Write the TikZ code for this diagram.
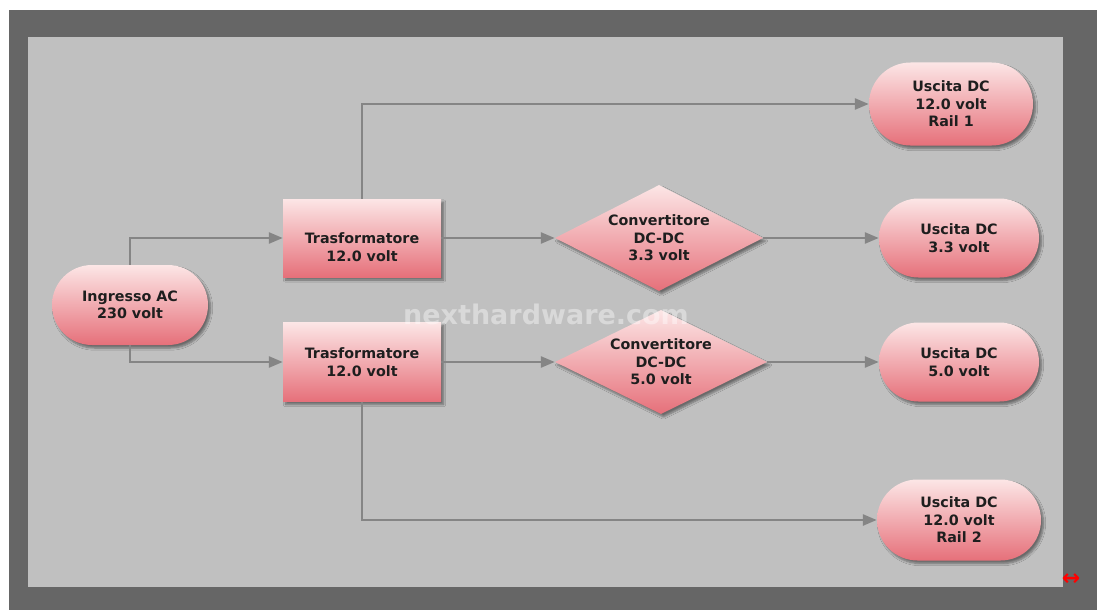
\documentclass[tikz,border=0pt]{standalone}
\usepackage{fontspec}
\setmainfont{DejaVu Sans}
\newfontfamily\symfont{DejaVu Sans}
\usetikzlibrary{shapes.geometric,shapes.misc,arrows.meta,shadows.blur}
\definecolor{framegray}{HTML}{666666}
\definecolor{innergray}{HTML}{C0C0C0}
\definecolor{linegray}{HTML}{858585}
\definecolor{pinktop}{HTML}{FCE6E6}
\definecolor{pinkbot}{HTML}{E6707A}
\definecolor{txt}{HTML}{1E1E1E}
\tikzset{
  box/.style={top color=pinktop, bottom color=pinkbot, draw=none,
    blur shadow={shadow xshift=2.5pt, shadow yshift=-3pt, shadow blur steps=6, shadow opacity=45},
    font=\bfseries\fontsize{14.3}{17.5}\selectfont, text=txt, align=center, inner sep=0pt},
  stadium/.style={box, rounded rectangle},
  rectbox/.style={box, rectangle},
  diam/.style={box, diamond, aspect=2},
  conn/.style={draw=linegray, line width=2.6pt,
    -{Triangle[length=14pt,width=11pt]}, line join=miter},
}
\begin{document}
\begin{tikzpicture}[x=1pt,y=-1pt]
\useasboundingbox (0,0) rectangle (1097,610);
\fill[white] (0,0) rectangle (1097,610);
\fill[framegray] (9,10) rectangle (1097,610);
\fill[innergray] (28,37) rectangle (1063,587);

\node[stadium, minimum width=156pt, minimum height=80pt] (in) at (130,305) {Ingresso AC\\230 volt};
\node[rectbox, minimum width=158pt, minimum height=78pt] (t1) at (362,238)
  {\raisebox{-11pt}[\height][\depth]{\begin{tabular}{@{}c@{}}Trasformatore\\12.0 volt\end{tabular}}};
\node[rectbox, minimum width=158pt, minimum height=79pt] (t2) at (362,362) {Trasformatore\\12.0 volt};
\node[diam, minimum width=208pt, minimum height=106pt] (d1) at (659,238) {Convertitore\\DC-DC\\3.3 volt};
\node[diam, minimum width=212pt, minimum height=104pt] (d2) at (661,362) {Convertitore\\DC-DC\\5.0 volt};
\node[stadium, minimum width=164pt, minimum height=83pt] (u1) at (951,104) {Uscita DC\\12.0 volt\\Rail 1};
\node[stadium, minimum width=160pt, minimum height=79pt] (u2) at (959,238) {Uscita DC\\3.3 volt};
\node[stadium, minimum width=160pt, minimum height=79pt] (u3) at (959,362) {Uscita DC\\5.0 volt};
\node[stadium, minimum width=164pt, minimum height=81pt] (u4) at (959,520) {Uscita DC\\12.0 volt\\Rail 2};

\draw[conn] (in.north) |- (t1.west);
\draw[conn] (in.south) |- (t2.west);
\draw[conn] (t1.north) |- (u1.west);
\draw[conn] (t1.east) -- (d1.west);
\draw[conn] (d1.east) -- (u2.west);
\draw[conn] (t2.east) -- (d2.west);
\draw[conn] (d2.east) -- (u3.west);
\draw[conn] (t2.south) |- (u4.west);

\node[text=white, opacity=0.4, font=\bfseries\fontsize{27}{30}\selectfont] (wm) at (546,314) {nexthardware.com};
\node[text=red, font=\symfont\bfseries\fontsize{22}{22}\selectfont, inner sep=0pt] (arr) at (1071,580) {↔};
\end{tikzpicture}
\end{document}
